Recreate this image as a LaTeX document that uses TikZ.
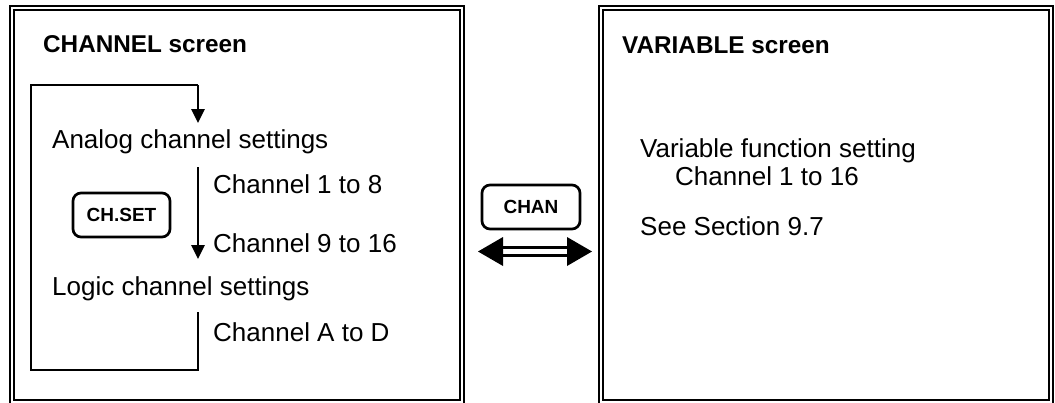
\documentclass[tikz,border=0pt]{standalone}
\usepackage{fontspec}
\setmainfont{Liberation Sans}
\usetikzlibrary{arrows.meta}
\begin{document}
\begin{tikzpicture}[x=1pt,y=-1pt,
  frame/.style={line width=1.5pt},
  txt/.style={inner sep=0pt,anchor=base west,font=\fontsize{26}{30}\selectfont},
  title/.style={inner sep=0pt,anchor=base west,font=\fontsize{24.3}{28}\selectfont\bfseries},
  keybox/.style={draw,line width=2.7pt,rounded corners=8pt,inner sep=0pt,font=\fontsize{19}{22}\selectfont\bfseries},
  flow/.style={line width=2.7pt,-{Triangle[length=14pt,width=13pt]}},
  plain/.style={line width=2.7pt}]
\useasboundingbox (0,0) rectangle (1055,402);
% frames
\draw[frame] (10,6) rectangle (464,405);
\draw[frame] (14,10) rectangle (460,400);
\draw[frame] (599,6) rectangle (1053,405);
\draw[frame] (603,10) rectangle (1049,400);
% left screen
\node[title] (chtitle) at (43,52) {CHANNEL screen};
\node[txt] (analog) at (52,148) {Analog channel settings};
\node[txt] (ch18) at (213,193) {Channel 1 to 8};
\node[txt] (ch916) at (213,252) {Channel 9 to 16};
\node[txt] (logic) at (52,295) {Logic channel settings};
\node[txt] (chad) at (213,341) {Channel A to D};
\node[keybox,minimum width=97pt,minimum height=44pt] (chset) at (121.5,215) {CH.SET};
\coordinate (lstart) at (198,312);
\coordinate (lbr) at (198,370);
\coordinate (lbl) at (31,370);
\coordinate (ltl) at (31,85);
\coordinate (ltr) at (198,85);
\coordinate (atip) at (198,123);
\coordinate (bstart) at (198,167);
\coordinate (btip) at (198,259);
\draw[plain,line join=miter] (lstart) -- (lbr) -- (lbl) -- (ltl) -- (ltr);
\draw[flow] (ltr) -- (atip);
\draw[flow] (bstart) -- (btip);
% middle
\node[keybox,minimum width=98pt,minimum height=44pt] (chan) at (531,207) {CHAN};
\coordinate (dl) at (478,251.5);
\coordinate (dr) at (592,251.5);
\coordinate (dlb) at (503,251.5);
\coordinate (drb) at (567,251.5);
\fill (dl) -- ([yshift=-14.5pt]dlb) -- ([yshift=14.5pt]dlb) -- cycle;
\fill (dr) -- ([yshift=-14.5pt]drb) -- ([yshift=14.5pt]drb) -- cycle;
\draw[line width=2.4pt] ([yshift=-4pt]dlb) -- ([yshift=-4pt]drb);
\draw[line width=2.4pt] ([yshift=4pt]dlb) -- ([yshift=4pt]drb);
% right screen
\node[title] (vartitle) at (622,53) {VARIABLE screen};
\node[txt] (varfn) at (640,157) {Variable function setting};
\node[txt] (ch116) at (675,185) {Channel 1 to 16};
\node[txt] (see) at (640,235) {See Section 9.7};
\end{tikzpicture}
\end{document}
